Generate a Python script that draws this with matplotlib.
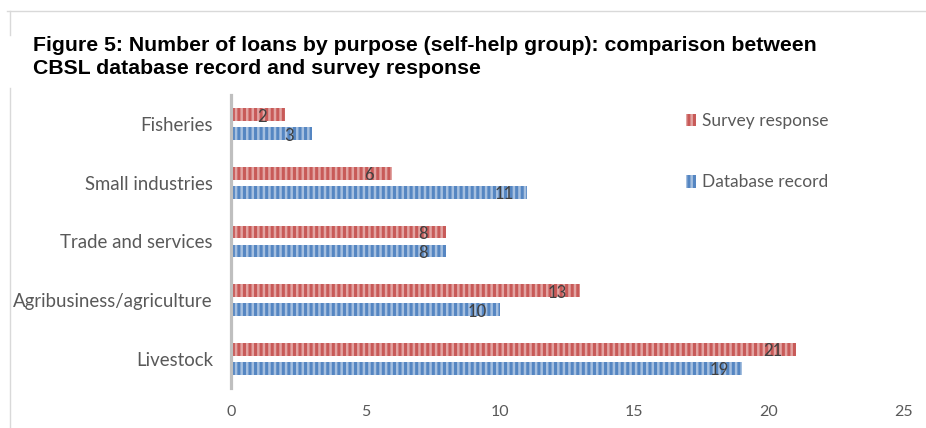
import matplotlib.pyplot as plt
from matplotlib.lines import Line2D

# Loans by purpose (self-help group), bottom to top as drawn
categories = ['Livestock', 'Agribusiness/agriculture', 'Trade and services',
              'Small industries', 'Fisheries']
survey = [21, 13, 8, 6, 2]
database = [19, 10, 8, 11, 3]
x_ticks = [0, 5, 10, 15, 20, 25]

red = '#C85A58'
blue = '#5586C2'
label_font = 'Lato'
plt.rcParams['hatch.linewidth'] = 1.8

fig = plt.figure(figsize=(9.26, 4.28), dpi=100)
ax = fig.add_axes([0.2495, 0.0935, 0.7257, 0.6845])

ypos = list(range(len(categories)))
h = 0.22
off = 0.162
bars_s = ax.barh([y + off for y in ypos], survey, height=h, color=red,
                 edgecolor='#E2A4A2', hatch='|||', linewidth=0,
                 label='Survey response')
bars_d = ax.barh([y - off for y in ypos], database, height=h, color=blue,
                 edgecolor='#A5BFDF', hatch='|||', linewidth=0,
                 label='Database record')

# data labels near the inside end of each bar
for bars, vals in ((bars_s, survey), (bars_d, database)):
    for b, v in zip(bars, vals):
        ax.annotate(str(v), (v, b.get_y() + b.get_height() / 2),
                    xytext=(-16.5, -1.5), textcoords='offset points',
                    ha='center', va='center', fontsize=12,
                    color='#404040', family=label_font)

ax.set_xlim(0, 25)
ax.set_ylim(-0.5, len(categories) - 0.5)
ax.set_xticks(x_ticks)
ax.set_yticks(ypos)
ax.set_yticklabels(categories)
for s in ('top', 'right', 'bottom'):
    ax.spines[s].set_visible(False)
ax.spines['left'].set_color('#BFBFBF')
ax.spines['left'].set_linewidth(2.3)
ax.tick_params(axis='y', length=0, pad=13, labelsize=13.4, labelcolor='#595959')
ax.tick_params(axis='x', length=0, pad=12, labelsize=11.5, labelcolor='#595959')
for t in ax.get_xticklabels() + ax.get_yticklabels():
    t.set_family(label_font)

ax.legend(handles=[bars_s, bars_d], loc='upper left',
          bbox_to_anchor=(0.7315, 0.756), bbox_transform=fig.transFigure,
          frameon=False, borderpad=0, labelspacing=2.6, handlelength=0.55,
          handleheight=0.75, handletextpad=0.35,
          prop={'family': label_font, 'size': 12.5}, labelcolor='#595959')

fig.text(0.0356, 0.915, 'Figure 5: Number of loans by purpose (self-help group): comparison between\n'
         'CBSL database record and survey response',
         ha='left', va='top', fontsize=15.3, fontweight='bold',
         family='Liberation Sans', color='black', linespacing=1.25)

# thin frame lines of the original document box
fig.add_artist(Line2D([7 / 926, 1], [1 - 11 / 428] * 2, color='#D9D9D9', lw=1))
fig.add_artist(Line2D([10 / 926] * 2, [1 - 11 / 428, 1 - 35 / 428], color='#D9D9D9', lw=1))
fig.add_artist(Line2D([10 / 926] * 2, [1 - 88 / 428, 0], color='#D9D9D9', lw=1))

fig.savefig('out.png', dpi=100)
